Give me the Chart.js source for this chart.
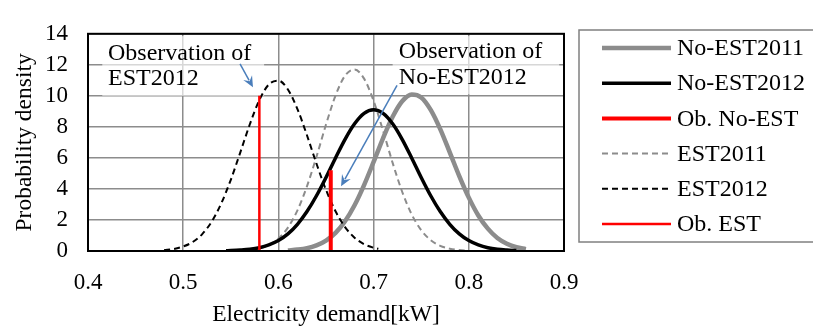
<!DOCTYPE html>
<html>
<head>
<meta charset="utf-8">
<script src="https://cdn.jsdelivr.net/npm/chart.js@4"></script>
<style>
  html, body { margin: 0; padding: 0; background: #fff; }
  #wrap { width: 813px; height: 327px; }
</style>
</head>
<body>
<div id="wrap"><canvas id="chart" width="813" height="327"></canvas></div>
<script>
// values
const xNoEst2011 = [0.61, 0.62, 0.63, 0.64, 0.65, 0.66, 0.67, 0.68, 0.69, 0.70, 0.71, 0.72, 0.73, 0.74, 0.75, 0.76, 0.77, 0.78, 0.79, 0.80, 0.81, 0.82, 0.83, 0.84, 0.85, 0.86];
const yNoEst2011 = [0.04, 0.09, 0.18, 0.36, 0.67, 1.17, 1.92, 2.95, 4.25, 5.74, 7.28, 8.65, 9.65, 10.09, 9.90, 9.10, 7.86, 6.36, 4.83, 3.44, 2.29, 1.44, 0.84, 0.47, 0.24, 0.12];

const xNoEst2012 = [0.545, 0.55, 0.56, 0.57, 0.58, 0.59, 0.60, 0.61, 0.62, 0.63, 0.64, 0.65, 0.66, 0.67, 0.68, 0.69, 0.70, 0.71, 0.72, 0.73, 0.74, 0.75, 0.76, 0.77, 0.78, 0.79, 0.80, 0.81, 0.82, 0.83, 0.84, 0.85];
const yNoEst2012 = [0.02, 0.03, 0.06, 0.11, 0.21, 0.39, 0.67, 1.10, 1.72, 2.54, 3.56, 4.74, 6.00, 7.20, 8.20, 8.87, 9.10, 8.87, 8.20, 7.20, 6.00, 4.74, 3.56, 2.54, 1.72, 1.10, 0.67, 0.39, 0.21, 0.11, 0.06, 0.03];

const xEst2011 = [0.56, 0.57, 0.58, 0.59, 0.60, 0.61, 0.62, 0.63, 0.64, 0.65, 0.66, 0.67, 0.68, 0.69, 0.70, 0.71, 0.72, 0.73, 0.74, 0.75, 0.76, 0.77, 0.78, 0.79, 0.80];
const yEst2011 = [0.03, 0.07, 0.17, 0.39, 0.80, 1.51, 2.62, 4.17, 6.08, 8.15, 10.02, 11.30, 11.70, 11.11, 9.68, 7.74, 5.68, 3.82, 2.36, 1.34, 0.70, 0.33, 0.15, 0.06, 0.02];

const xEst2012 = [0.48, 0.49, 0.50, 0.51, 0.52, 0.53, 0.54, 0.55, 0.56, 0.57, 0.58, 0.59, 0.60, 0.61, 0.62, 0.63, 0.64, 0.65, 0.66, 0.67, 0.68, 0.69, 0.70, 0.705];
const yEst2012 = [0.06, 0.13, 0.29, 0.58, 1.09, 1.90, 3.07, 4.59, 6.36, 8.17, 9.73, 10.74, 10.98, 10.41, 9.15, 7.46, 5.63, 3.94, 2.56, 1.54, 0.86, 0.44, 0.21, 0.14];

// observed values (vertical red lines)
const xObNoEst = [0.655, 0.655];
const yObNoEst = [0, 5.2];
const xObEst = [0.58, 0.58];
const yObEst = [0, 10];

const xTicks = [0.4, 0.5, 0.6, 0.7, 0.8, 0.9];
const yTicks = [0, 2, 4, 6, 8, 10, 12, 14];

const FONT = 'Liberation Serif';

function pts(xs, ys) {
    return xs.map((x, i) => ({ x: x, y: ys[i] }));
}

// callouts: text lines and arrow, in data units
const notes = [
    { lines: ['Observation of', 'EST2012'], x: 0.421, y: [12.3, 10.67], box: [0.415, 13.85, 0.585, 10.0],
      arrow: [0.5597, 12.06, 0.5733, 10.55] },
    { lines: ['Observation of', 'No-EST2012'], x: 0.7265, y: [12.42, 10.79], box: [0.72, 13.85, 0.895, 10.1],
      arrow: [0.7246, 10.67, 0.6658, 4.18] }
];

const frame = {
    id: 'frame',
    beforeDatasetsDraw(chart) {
        const { ctx, scales } = chart;
        const sx = scales.x, sy = scales.y;
        ctx.save();
        ctx.fillStyle = 'rgba(255,255,255,0.65)';
        for (const n of notes) {
            const x1 = sx.getPixelForValue(n.box[0]), y1 = sy.getPixelForValue(n.box[1]);
            const x2 = sx.getPixelForValue(n.box[2]), y2 = sy.getPixelForValue(n.box[3]);
            ctx.fillRect(x1, y1, x2 - x1, y2 - y1);
        }
        ctx.restore();
    },
    afterDatasetsDraw(chart) {
        const { ctx, chartArea: a, scales } = chart;
        const sx = scales.x, sy = scales.y;
        ctx.save();
        ctx.strokeStyle = '#000';
        ctx.lineWidth = 2;
        ctx.strokeRect(a.left, a.top, a.right - a.left, a.bottom - a.top);

        ctx.fillStyle = '#000';
        ctx.font = '24px "' + FONT + '"';
        ctx.textBaseline = 'alphabetic';
        for (const n of notes) {
            n.lines.forEach((t, i) => {
                ctx.fillText(t, sx.getPixelForValue(n.x), sy.getPixelForValue(n.y[i]));
            });
            const x1 = sx.getPixelForValue(n.arrow[0]), y1 = sy.getPixelForValue(n.arrow[1]);
            const x2 = sx.getPixelForValue(n.arrow[2]), y2 = sy.getPixelForValue(n.arrow[3]);
            const ang = Math.atan2(y2 - y1, x2 - x1);
            ctx.strokeStyle = '#4a7ebb';
            ctx.fillStyle = '#4a7ebb';
            ctx.lineWidth = 1.5;
            ctx.beginPath();
            ctx.moveTo(x1, y1);
            ctx.lineTo(x2 - 8 * Math.cos(ang), y2 - 8 * Math.sin(ang));
            ctx.stroke();
            ctx.beginPath();
            ctx.moveTo(x2, y2);
            ctx.lineTo(x2 - 11 * Math.cos(ang) + 5 * Math.sin(ang), y2 - 11 * Math.sin(ang) - 5 * Math.cos(ang));
            ctx.lineTo(x2 - 7 * Math.cos(ang), y2 - 7 * Math.sin(ang));
            ctx.lineTo(x2 - 11 * Math.cos(ang) - 5 * Math.sin(ang), y2 - 11 * Math.sin(ang) + 5 * Math.cos(ang));
            ctx.closePath();
            ctx.fill();
            ctx.fillStyle = '#000';
        }
        ctx.restore();
    },
    afterDraw(chart) {
        // legend box at the right
        const { ctx, chartArea: a } = chart;
        const left = a.right + 15, top = 30, bottom = 242;
        ctx.save();
        ctx.strokeStyle = '#808080';
        ctx.lineWidth = 1.5;
        ctx.strokeRect(left, top, 813 - left + 5, bottom - top);
        ctx.font = '24px "' + FONT + '"';
        ctx.textBaseline = 'middle';
        chart.data.datasets.forEach((ds, i) => {
            const y = top + 18 + i * 35.2;
            ctx.strokeStyle = ds.borderColor;
            ctx.lineWidth = ds.borderWidth;
            ctx.setLineDash(ds.borderDash || []);
            ctx.beginPath();
            ctx.moveTo(left + 23, y);
            ctx.lineTo(left + 92, y);
            ctx.stroke();
            ctx.setLineDash([]);
            ctx.fillStyle = '#000';
            ctx.fillText(ds.label, left + 98, y + 1);
        });
        ctx.restore();
    }
};

new Chart(document.getElementById('chart').getContext('2d'), {
    type: 'line',
    data: {
        datasets: [
            { label: 'No-EST2011', data: pts(xNoEst2011, yNoEst2011), borderColor: '#8c8c8c', borderWidth: 4.5, order: 4 },
            { label: 'No-EST2012', data: pts(xNoEst2012, yNoEst2012), borderColor: '#000000', borderWidth: 3.5, order: 3 },
            { label: 'Ob. No-EST', data: pts(xObNoEst, yObNoEst), borderColor: '#ff0000', borderWidth: 4, order: 1 },
            { label: 'EST2011', data: pts(xEst2011, yEst2011), borderColor: '#8c8c8c', borderWidth: 2, borderDash: [6, 4], order: 5 },
            { label: 'EST2012', data: pts(xEst2012, yEst2012), borderColor: '#000000', borderWidth: 2, borderDash: [6, 4], order: 2 },
            { label: 'Ob. EST', data: pts(xObEst, yObEst), borderColor: '#ff0000', borderWidth: 2.5, order: 0 }
        ]
    },
    options: {
        responsive: false,
        animation: false,
        elements: {
            point: { radius: 0 },
            line: { tension: 0.4, cubicInterpolationMode: 'monotone', fill: false }
        },
        layout: { padding: { top: 20, right: 249, left: 0, bottom: 0 } },
        plugins: { legend: { display: false }, tooltip: { enabled: false } },
        scales: {
            x: {
                type: 'linear',
                min: 0.4, max: 0.9,
                afterBuildTicks(axis) { axis.ticks = xTicks.map(v => ({ value: v })); },
                afterFit(axis) { axis.height = 76; },
                ticks: { padding: 18, color: '#000', font: { family: FONT, size: 23 },
                         callback: v => v.toFixed(1), maxRotation: 0 },
                grid: { color: '#8c8c8c', lineWidth: 1.5, drawTicks: false },
                border: { color: '#000', width: 2 },
                title: { display: true, text: 'Electricity demand[kW]', color: '#000',
                         font: { family: FONT, size: 23.5, lineHeight: 1 }, padding: { top: 10, bottom: 0 } }
            },
            y: {
                min: 0, max: 14,
                afterBuildTicks(axis) { axis.ticks = yTicks.map(v => ({ value: v })); },
                afterFit(axis) { axis.width = 88; },
                ticks: { padding: 20, color: '#000', font: { family: FONT, size: 23 } },
                grid: { color: '#8c8c8c', lineWidth: 1.5, drawTicks: false },
                border: { color: '#000', width: 2 },
                title: { display: true, text: 'Probability density', color: '#000',
                         font: { family: FONT, size: 23.5 }, padding: { top: 11, bottom: 0 } }
            }
        }
    },
    plugins: [frame]
});
</script>
</body>
</html>
